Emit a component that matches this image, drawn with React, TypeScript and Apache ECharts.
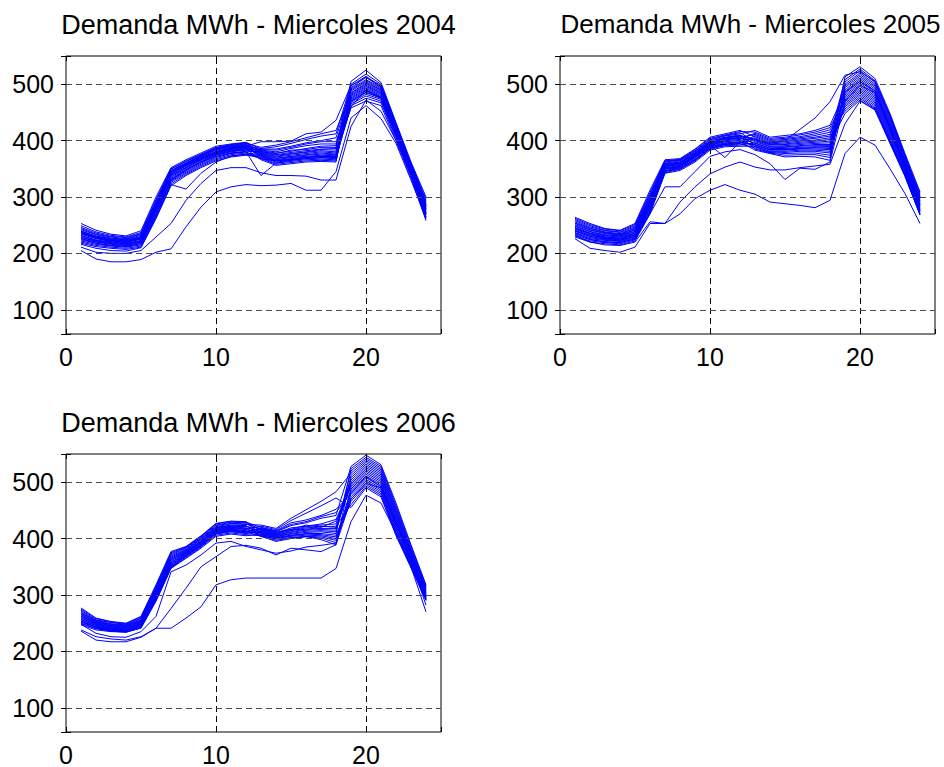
import React, { useEffect, useRef } from "react";
import * as echarts from "echarts";

// Hour of day for each reading
const hours = [1, 2, 3, 4, 5, 6, 7, 8, 9, 10, 11, 12, 13, 14, 15, 16, 17, 18, 19, 20, 21, 22, 23, 24];

// Axis tick labels
const xTicks = [0, 10, 20];
const yTicks = [100, 200, 300, 400, 500];

const titles = [
  "Demanda MWh - Miercoles 2004",
  "Demanda MWh - Miercoles 2005",
  "Demanda MWh - Miercoles 2006",
];

// Hourly demand (MWh), one row per Wednesday
const demand2004: number[][] = [
  [253, 241, 234, 231, 240, 300, 352, 366, 378, 390, 394, 397, 385, 385, 390, 396, 400, 405, 492, 508, 494, 425, 356, 288],
  [249, 238, 232, 229, 237, 296, 350, 364, 376, 388, 393, 396, 380, 377, 383, 384, 388, 388, 505, 525, 503, 432, 362, 300],
  [246, 236, 230, 228, 235, 293, 349, 363, 375, 387, 392, 395, 388, 392, 398, 405, 412, 418, 484, 500, 487, 420, 352, 282],
  [244, 234, 229, 226, 234, 291, 347, 361, 374, 386, 391, 394, 376, 369, 372, 375, 378, 376, 497, 514, 496, 428, 358, 293],
  [242, 233, 227, 225, 232, 289, 346, 360, 373, 385, 390, 393, 383, 380, 386, 391, 394, 394, 474, 490, 478, 414, 346, 274],
  [240, 231, 226, 224, 230, 288, 345, 359, 372, 384, 389, 392, 369, 360, 363, 366, 367, 366, 488, 504, 490, 422, 354, 284],
  [239, 230, 225, 223, 229, 286, 344, 358, 371, 383, 388, 391, 379, 374, 377, 380, 384, 383, 480, 496, 484, 418, 350, 279],
  [238, 229, 224, 222, 228, 285, 343, 357, 370, 381, 387, 390, 386, 389, 395, 402, 408, 412, 500, 518, 500, 430, 360, 296],
  [236, 228, 223, 221, 227, 284, 341, 356, 369, 380, 386, 389, 374, 366, 370, 372, 374, 373, 468, 482, 473, 409, 342, 268],
  [235, 227, 222, 220, 226, 283, 340, 355, 368, 379, 385, 388, 382, 378, 381, 386, 390, 391, 494, 512, 498, 426, 357, 290],
  [234, 226, 221, 219, 225, 281, 338, 353, 367, 378, 384, 387, 372, 364, 367, 370, 371, 370, 478, 494, 482, 417, 349, 277],
  [232, 224, 220, 218, 223, 280, 337, 352, 366, 377, 383, 386, 378, 372, 376, 379, 382, 380, 458, 470, 462, 400, 334, 258],
  [231, 223, 219, 217, 222, 278, 335, 351, 365, 376, 382, 385, 366, 356, 359, 362, 363, 362, 490, 506, 492, 423, 355, 286],
  [229, 222, 218, 216, 221, 276, 333, 349, 363, 375, 381, 384, 384, 383, 388, 394, 398, 398, 472, 488, 477, 413, 345, 272],
  [228, 221, 217, 215, 220, 275, 331, 348, 362, 374, 380, 383, 377, 371, 374, 377, 380, 378, 485, 502, 489, 421, 353, 283],
  [226, 220, 216, 214, 219, 273, 330, 346, 360, 372, 378, 381, 381, 375, 379, 382, 385, 386, 465, 479, 470, 407, 340, 265],
  [224, 218, 214, 213, 217, 270, 328, 344, 358, 370, 377, 380, 368, 358, 361, 364, 365, 364, 482, 498, 485, 419, 351, 280],
  [222, 216, 213, 211, 215, 268, 326, 342, 356, 368, 375, 378, 375, 368, 371, 374, 376, 375, 476, 492, 480, 416, 348, 276],
  [220, 214, 211, 209, 213, 265, 323, 340, 354, 366, 373, 376, 373, 365, 368, 371, 372, 371, 462, 475, 467, 404, 338, 262],
  [218, 212, 209, 207, 211, 262, 320, 338, 352, 364, 371, 374, 371, 362, 365, 368, 369, 368, 470, 485, 475, 411, 344, 270],
  [205, 190, 185, 185, 189, 202, 208, 247, 282, 309, 318, 322, 320, 321, 324, 312, 312, 345, 440, 462, 439, 395, 330, 262],
  [211, 202, 200, 200, 205, 229, 253, 294, 324, 347, 352, 352, 343, 338, 338, 337, 330, 330, 425, 472, 452, 400, 338, 265],
  [216, 209, 205, 204, 210, 262, 322, 314, 342, 362, 372, 376, 368, 364, 366, 370, 372, 370, 460, 490, 475, 410, 340, 270],
  [226, 218, 214, 212, 217, 268, 330, 348, 362, 372, 378, 380, 338, 360, 365, 368, 370, 372, 470, 486, 476, 412, 345, 272],
  [237, 228, 223, 221, 226, 282, 340, 356, 368, 380, 386, 390, 398, 398, 399, 412, 415, 436, 498, 512, 495, 426, 356, 285],
];

const demand2005: number[][] = [
  [264, 253, 244, 241, 253, 312, 366, 368, 385, 406, 412, 418, 407, 396, 398, 401, 404, 408, 508, 527, 506, 444, 374, 306],
  [262, 251, 243, 240, 251, 308, 364, 367, 384, 404, 410, 416, 415, 404, 406, 410, 415, 423, 475, 496, 476, 415, 352, 283],
  [260, 249, 241, 238, 249, 305, 363, 366, 382, 402, 409, 414, 398, 389, 389, 391, 393, 393, 500, 520, 500, 438, 369, 300],
  [258, 247, 240, 237, 247, 302, 362, 365, 381, 401, 408, 412, 418, 406, 409, 412, 418, 427, 487, 508, 488, 426, 360, 291],
  [256, 245, 238, 235, 245, 300, 360, 364, 380, 399, 406, 410, 392, 383, 383, 385, 385, 384, 513, 531, 510, 448, 377, 309],
  [254, 244, 237, 234, 244, 298, 359, 362, 378, 398, 405, 409, 403, 393, 394, 397, 399, 402, 463, 484, 464, 403, 344, 275],
  [253, 242, 236, 233, 242, 296, 358, 361, 377, 397, 404, 408, 385, 378, 374, 375, 375, 370, 494, 514, 494, 432, 364, 296],
  [251, 241, 235, 232, 241, 294, 357, 360, 376, 396, 403, 406, 411, 400, 402, 405, 409, 415, 452, 475, 456, 396, 338, 270],
  [249, 239, 233, 231, 239, 292, 356, 359, 375, 395, 402, 405, 395, 386, 386, 388, 389, 388, 481, 502, 482, 421, 356, 287],
  [248, 238, 232, 230, 238, 290, 355, 358, 374, 394, 401, 404, 401, 392, 393, 395, 397, 399, 504, 524, 503, 441, 371, 303],
  [246, 236, 231, 229, 236, 288, 354, 357, 373, 393, 400, 402, 413, 402, 404, 407, 412, 419, 469, 490, 470, 409, 348, 279],
  [244, 235, 229, 227, 235, 286, 352, 356, 372, 392, 399, 401, 389, 380, 379, 381, 381, 378, 490, 511, 491, 429, 362, 293],
  [243, 233, 228, 226, 233, 284, 351, 355, 371, 391, 398, 400, 405, 394, 396, 399, 401, 405, 456, 478, 458, 398, 340, 271],
  [241, 232, 227, 225, 232, 282, 350, 354, 370, 390, 396, 398, 383, 377, 371, 372, 371, 365, 497, 517, 497, 435, 366, 298],
  [239, 230, 226, 224, 230, 280, 349, 353, 369, 389, 395, 397, 400, 390, 391, 393, 395, 396, 448, 472, 454, 395, 336, 268],
  [237, 228, 224, 222, 229, 278, 347, 352, 367, 388, 394, 396, 393, 384, 385, 386, 387, 386, 484, 505, 485, 424, 358, 289],
  [235, 226, 223, 221, 227, 276, 346, 351, 366, 387, 393, 395, 409, 398, 400, 403, 406, 411, 472, 493, 473, 412, 350, 281],
  [233, 224, 221, 219, 226, 274, 345, 350, 365, 386, 392, 394, 387, 379, 377, 378, 378, 374, 478, 499, 479, 418, 354, 285],
  [231, 222, 219, 217, 224, 272, 343, 349, 364, 385, 391, 392, 396, 387, 388, 390, 391, 391, 460, 481, 461, 400, 342, 273],
  [229, 220, 217, 215, 222, 270, 342, 347, 362, 383, 389, 390, 390, 381, 381, 383, 383, 381, 466, 487, 467, 406, 346, 277],
  [226, 209, 205, 202, 211, 253, 253, 270, 297, 312, 322, 312, 305, 291, 288, 285, 281, 294, 377, 406, 392, 350, 306, 253],
  [232, 220, 215, 214, 220, 256, 253, 291, 318, 341, 353, 362, 353, 348, 348, 352, 355, 358, 430, 470, 455, 400, 338, 268],
  [236, 225, 220, 219, 225, 270, 318, 318, 345, 372, 380, 384, 375, 359, 331, 351, 349, 362, 470, 498, 485, 420, 350, 276],
  [240, 230, 225, 223, 230, 282, 345, 355, 372, 392, 370, 398, 392, 384, 384, 386, 388, 390, 486, 505, 488, 424, 356, 286],
  [245, 235, 229, 227, 235, 290, 352, 362, 378, 398, 405, 408, 402, 395, 400, 420, 440, 469, 516, 522, 505, 445, 372, 300],
];

const demand2006: number[][] = [
  [277, 259, 253, 250, 262, 318, 377, 386, 405, 427, 431, 430, 414, 408, 415, 421, 424, 426, 504, 529, 513, 443, 374, 306],
  [275, 258, 252, 249, 261, 316, 375, 385, 404, 426, 430, 429, 420, 414, 428, 433, 441, 452, 478, 505, 489, 419, 358, 295],
  [273, 256, 251, 248, 259, 314, 373, 384, 403, 424, 429, 428, 409, 403, 408, 411, 412, 409, 524, 544, 528, 459, 386, 316],
  [271, 255, 249, 247, 258, 312, 371, 383, 401, 423, 427, 426, 417, 411, 416, 424, 420, 431, 491, 517, 501, 431, 366, 300],
  [269, 254, 248, 246, 256, 310, 369, 381, 400, 421, 426, 425, 424, 418, 436, 451, 466, 483, 516, 538, 522, 452, 380, 312],
  [268, 253, 247, 245, 255, 308, 367, 380, 399, 420, 424, 423, 406, 400, 404, 406, 405, 400, 466, 496, 480, 410, 352, 292],
  [266, 252, 246, 244, 254, 307, 365, 379, 398, 419, 423, 422, 412, 406, 412, 417, 418, 418, 497, 523, 507, 437, 370, 303],
  [265, 251, 245, 243, 253, 305, 363, 378, 396, 418, 422, 421, 418, 412, 423, 428, 436, 441, 528, 548, 531, 463, 389, 318],
  [263, 250, 244, 242, 252, 304, 362, 377, 395, 417, 421, 419, 404, 397, 401, 403, 401, 393, 485, 511, 495, 425, 362, 297],
  [262, 249, 243, 241, 251, 302, 360, 376, 394, 416, 420, 418, 415, 409, 417, 415, 422, 420, 508, 532, 516, 446, 376, 308],
  [260, 248, 242, 240, 250, 300, 358, 375, 393, 415, 419, 417, 422, 416, 432, 445, 458, 472, 455, 490, 474, 405, 348, 290],
  [259, 247, 241, 239, 249, 299, 357, 374, 392, 414, 418, 416, 410, 404, 409, 413, 414, 412, 520, 541, 525, 455, 383, 314],
  [257, 246, 240, 238, 248, 297, 355, 373, 391, 413, 417, 414, 407, 401, 405, 408, 407, 403, 474, 502, 486, 416, 356, 294],
  [256, 245, 239, 237, 247, 296, 354, 372, 390, 412, 416, 413, 416, 410, 419, 422, 426, 434, 494, 520, 504, 434, 368, 301],
  [254, 244, 238, 236, 246, 294, 352, 371, 389, 411, 415, 412, 404, 395, 400, 404, 398, 389, 512, 535, 519, 449, 378, 310],
  [253, 243, 238, 236, 245, 293, 351, 370, 388, 410, 414, 411, 419, 413, 425, 430, 439, 446, 482, 508, 492, 422, 360, 296],
  [252, 242, 237, 235, 244, 292, 350, 369, 387, 409, 413, 410, 411, 405, 411, 415, 416, 415, 500, 526, 510, 440, 372, 304],
  [250, 241, 236, 235, 243, 291, 349, 368, 386, 408, 412, 409, 413, 407, 414, 419, 421, 422, 460, 493, 477, 408, 350, 291],
  [249, 240, 236, 234, 242, 290, 348, 366, 385, 406, 410, 407, 405, 399, 402, 404, 403, 397, 488, 514, 498, 428, 364, 298],
  [247, 238, 235, 234, 241, 289, 347, 365, 383, 404, 408, 405, 408, 402, 406, 409, 409, 406, 470, 499, 483, 413, 354, 293],
  [236, 220, 217, 217, 225, 241, 241, 259, 279, 318, 327, 330, 330, 330, 330, 330, 330, 347, 430, 477, 463, 410, 350, 270],
  [238, 226, 222, 220, 226, 241, 276, 312, 350, 368, 386, 388, 383, 371, 383, 380, 377, 389, 470, 498, 490, 430, 360, 282],
  [248, 232, 226, 225, 235, 262, 341, 353, 371, 392, 395, 386, 380, 374, 378, 385, 388, 392, 480, 510, 492, 428, 362, 292],
];

const yearData = [demand2004, demand2005, demand2006];

const FONT = "'Liberation Sans', Arial, Helvetica, sans-serif";
const LINE_COLOR = "#0000ff";

// Plot rectangles of the three subplots, with the title size of each
const PANEL_W = 375;
const PANEL_H = 278;
const panelPos = [
  { left: 66, top: 56, titleSize: 27, titleShift: 0 },
  { left: 560, top: 56, titleSize: 26, titleShift: -2 },
  { left: 66, top: 454, titleSize: 27, titleShift: 0 },
];

const X_MIN = 0;
const X_MAX = 25;
const Y_MIN = 57;
const Y_MAX = 550;

function buildOption(): echarts.EChartsOption {
  const grid = panelPos.map((p) => ({
    left: p.left,
    top: p.top,
    width: PANEL_W,
    height: PANEL_H,
    show: true,
    borderColor: "#000",
    borderWidth: 1,
    backgroundColor: "#fff",
    containLabel: false,
  }));

  const tickStyle = { show: true, inside: true, length: 5, lineStyle: { color: "#000", width: 1 } };

  const xAxis: any[] = [];
  const yAxis: any[] = [];
  panelPos.forEach((_, i) => {
    (["bottom", "top"] as const).forEach((position) => {
      xAxis.push({
        type: "value",
        gridIndex: i,
        position,
        min: X_MIN,
        max: X_MAX,
        interval: 10,
        axisLine: { show: false },
        axisTick: tickStyle,
        splitLine: { show: false },
        axisLabel:
          position === "bottom"
            ? {
                show: true,
                fontSize: 25,
                color: "#000",
                fontFamily: FONT,
                margin: 10,
                formatter: (v: number) => (xTicks.includes(v) ? String(v) : ""),
              }
            : { show: false },
      });
    });
    (["left", "right"] as const).forEach((position) => {
      yAxis.push({
        type: "value",
        gridIndex: i,
        position,
        min: Y_MIN,
        max: Y_MAX,
        splitNumber: 5,
        axisLine: { show: false },
        axisTick: tickStyle,
        splitLine: { show: false },
        axisLabel:
          position === "left"
            ? {
                show: true,
                fontSize: 25,
                color: "#000",
                fontFamily: FONT,
                margin: 12,
                formatter: (v: number) => (yTicks.includes(v) ? String(v) : ""),
              }
            : { show: false },
      });
    });
  });

  const series: any[] = [];
  yearData.forEach((rows, i) => {
    // dashed grid lines at the labelled ticks
    series.push({
      type: "line",
      xAxisIndex: 2 * i,
      yAxisIndex: 2 * i,
      data: [],
      z: 1,
      silent: true,
      markLine: {
        silent: true,
        symbol: ["none", "none"],
        label: { show: false },
        lineStyle: { color: "#000", width: 1, type: [6, 4] },
        data: [
          ...xTicks.filter((v) => v > X_MIN).map((v) => ({ xAxis: v })),
          ...yTicks.map((v) => ({ yAxis: v, lineStyle: { color: "#4a4a4a", width: 1.2, type: [6, 4] } })),
        ],
      },
    });
    rows.forEach((row) => {
      series.push({
        type: "line",
        xAxisIndex: 2 * i,
        yAxisIndex: 2 * i,
        data: hours.map((h, k) => [h, row[k]]),
        symbol: "none",
        showSymbol: false,
        silent: true,
        z: 2,
        lineStyle: { color: LINE_COLOR, width: 1 },
      });
    });
  });

  const title = panelPos.map((p, i) => ({
    text: titles[i],
    left: p.left + PANEL_W / 2 + p.titleShift,
    top: p.top - 50,
    textAlign: "center" as const,
    textStyle: { fontSize: p.titleSize, fontWeight: "normal" as const, color: "#000", fontFamily: FONT },
  }));

  return {
    animation: false,
    backgroundColor: "#fff",
    title,
    grid,
    xAxis,
    yAxis,
    series,
  };
}

export default function App() {
  const ref = useRef<HTMLDivElement>(null);

  useEffect(() => {
    if (!ref.current) return;
    const chart = echarts.init(ref.current, undefined, { renderer: "svg" });
    chart.setOption(buildOption());
    return () => chart.dispose();
  }, []);

  return (
    <div
      ref={ref}
      style={{ position: "fixed", left: 0, top: 0, width: 944, height: 767, background: "#fff" }}
    />
  );
}
